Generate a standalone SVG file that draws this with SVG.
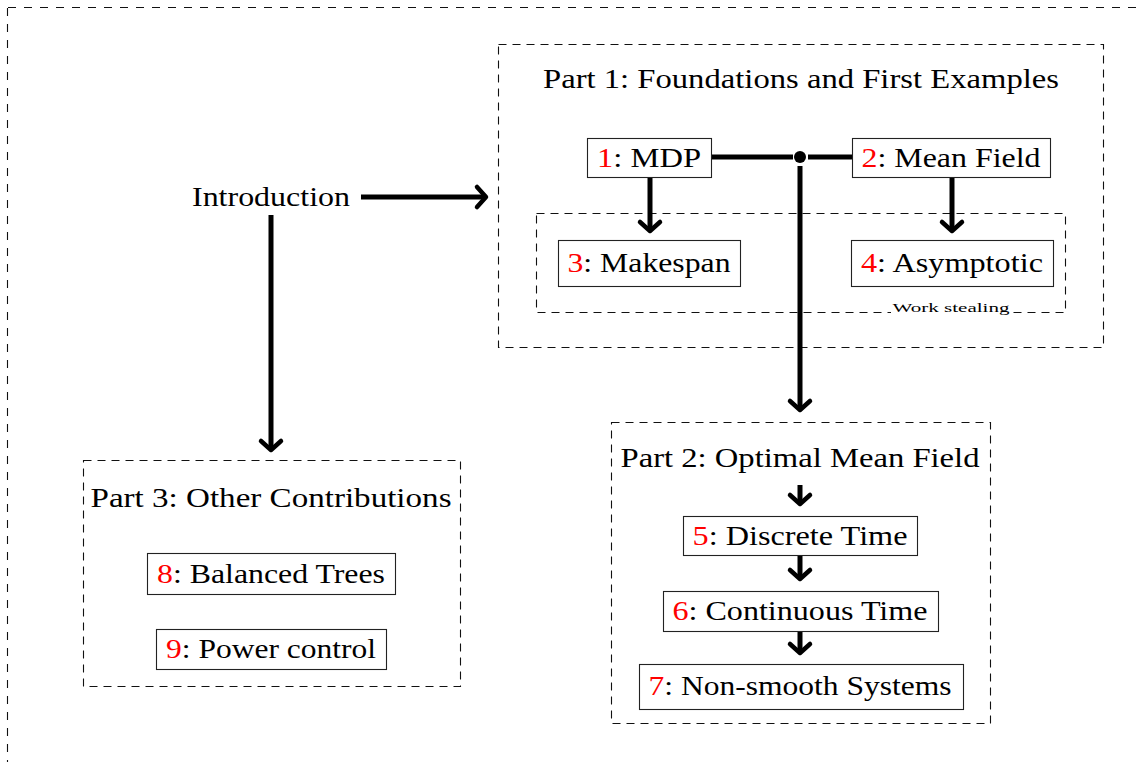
<svg xmlns="http://www.w3.org/2000/svg" width="1137" height="762" viewBox="0 0 1137 762">
<style>
text{font-family:"Liberation Serif","DejaVu Serif",serif;font-size:27px;fill:#000}
.t{text-anchor:middle}
.n{fill:#ff0000}
.box{fill:#fff;stroke:#222;stroke-width:1.1}
.dash{fill:none;stroke:#111;stroke-width:1.1;stroke-dasharray:8 6}
.con{fill:none;stroke:#000;stroke-width:5}
.small{font-size:13px}
</style>
<defs>
<marker id="arr" markerUnits="userSpaceOnUse" viewBox="-16 -16 24 32" refX="0" refY="0" markerWidth="24" markerHeight="32" orient="auto" overflow="visible">
<path d="M-9,-10 L0,0 L-9,10" fill="none" stroke="#000" stroke-width="4.5" stroke-linecap="round" stroke-linejoin="round"/>
</marker>
</defs>
<rect width="1137" height="762" fill="#fff"/>
<g id="frame">
<path d="M8,7.5 H1137 M7.5,8 V762" class="dash" style="stroke-dasharray:8 8"/>
</g>
<g id="part1">
<rect x="498.5" y="44.5" width="605" height="303" class="dash"/>
<text x="801" y="88" class="t" textLength="516" lengthAdjust="spacingAndGlyphs">Part 1: Foundations and First Examples</text>
</g>
<g id="workstealing">
<rect x="536.5" y="213.5" width="529" height="99" class="dash"/>
<rect x="891" y="304" width="121" height="14" fill="#fff"/>
<text x="951" y="312" class="t small" textLength="117" lengthAdjust="spacingAndGlyphs">Work stealing</text>
</g>
<g id="part2">
<rect x="611.5" y="422.5" width="379" height="301" class="dash"/>
<text x="800" y="467" class="t" textLength="359" lengthAdjust="spacingAndGlyphs">Part 2: Optimal Mean Field</text>
</g>
<g id="part3">
<rect x="83.5" y="460.5" width="377" height="226" class="dash"/>
<text x="271" y="507" class="t" textLength="361" lengthAdjust="spacingAndGlyphs">Part 3: Other Contributions</text>
</g>
<g id="connectors">
<path d="M711,157 H793" class="con"/>
<path d="M808,157 H852" class="con"/>
<circle cx="800" cy="157" r="6" fill="#000"/>
<path d="M800,166 V410" class="con" marker-end="url(#arr)"/>
<path d="M650,177 V231" class="con" marker-end="url(#arr)"/>
<path d="M952,177 V231" class="con" marker-end="url(#arr)"/>
<path d="M361,197 H486" class="con" marker-end="url(#arr)"/>
<path d="M271,215 V450" class="con" marker-end="url(#arr)"/>
<path d="M800,485 V504" class="con" marker-end="url(#arr)"/>
<path d="M800,556 V579" class="con" marker-end="url(#arr)"/>
<path d="M800,631 V653" class="con" marker-end="url(#arr)"/>
</g>
<g id="intro">
<text x="271" y="206" class="t" textLength="158" lengthAdjust="spacingAndGlyphs">Introduction</text>
</g>
<g id="n1">
<rect x="587.5" y="138.5" width="124" height="39" class="box"/>
<text x="649" y="167" class="t" textLength="104" lengthAdjust="spacingAndGlyphs"><tspan class="n">1</tspan>: MDP</text>
</g>
<g id="n2">
<rect x="852.5" y="138.5" width="198" height="39" class="box"/>
<text x="951" y="167" class="t" textLength="179" lengthAdjust="spacingAndGlyphs"><tspan class="n">2</tspan>: Mean Field</text>
</g>
<g id="n3">
<rect x="558.5" y="240.5" width="182" height="46" class="box"/>
<text x="649" y="272" class="t" textLength="163" lengthAdjust="spacingAndGlyphs"><tspan class="n">3</tspan>: Makespan</text>
</g>
<g id="n4">
<rect x="851.5" y="240.5" width="202" height="46" class="box"/>
<text x="952" y="272" class="t" textLength="182" lengthAdjust="spacingAndGlyphs"><tspan class="n">4</tspan>: Asymptotic</text>
</g>
<g id="n5">
<rect x="683.5" y="516.5" width="234" height="39" class="box"/>
<text x="800" y="545" class="t" textLength="215" lengthAdjust="spacingAndGlyphs"><tspan class="n">5</tspan>: Discrete Time</text>
</g>
<g id="n6">
<rect x="663.5" y="591.5" width="275" height="40" class="box"/>
<text x="800" y="620" class="t" textLength="255" lengthAdjust="spacingAndGlyphs"><tspan class="n">6</tspan>: Continuous Time</text>
</g>
<g id="n7">
<rect x="639.5" y="664.5" width="324" height="45" class="box"/>
<text x="800" y="695" class="t" textLength="303" lengthAdjust="spacingAndGlyphs"><tspan class="n">7</tspan>: Non-smooth Systems</text>
</g>
<g id="n8">
<rect x="147.5" y="553.5" width="248" height="41" class="box"/>
<text x="271" y="583" class="t" textLength="228" lengthAdjust="spacingAndGlyphs"><tspan class="n">8</tspan>: Balanced Trees</text>
</g>
<g id="n9">
<rect x="156.5" y="629.5" width="230" height="40" class="box"/>
<text x="271" y="658" class="t" textLength="210" lengthAdjust="spacingAndGlyphs"><tspan class="n">9</tspan>: Power control</text>
</g>
</svg>
